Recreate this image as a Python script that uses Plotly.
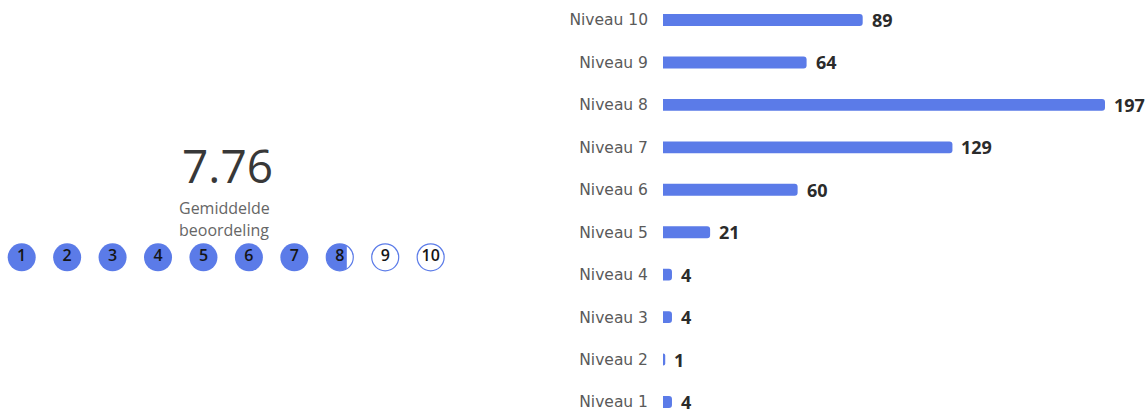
import numpy as np
import plotly.graph_objects as go

# ---- data ----
levels = ["Niveau 1", "Niveau 2", "Niveau 3", "Niveau 4", "Niveau 5",
          "Niveau 6", "Niveau 7", "Niveau 8", "Niveau 9", "Niveau 10"]
counts = [4, 1, 4, 4, 21, 60, 129, 197, 64, 89]
average = 7.76
average_label = "Gemiddelde"
average_label2 = "beoordeling"
scale_points = list(range(1, 11))

BLUE = "#5b7be8"
W, H = 1147, 412

fig = go.Figure()

# ---- bar chart ----
fig.add_trace(go.Bar(
    x=counts, y=levels, orientation="h",
    marker=dict(color=BLUE, line=dict(width=0)),
    xaxis="x", yaxis="y", hoverinfo="x+y", showlegend=False,
))
for lv, c in zip(levels, counts):
    fig.add_annotation(
        x=c, y=lv, xref="x", yref="y", text=f"<b>{c}</b>",
        showarrow=False, xanchor="left", yanchor="middle", xshift=7,
        font=dict(family="Open Sans", size=18, color="#2b2b2b"),
    )

# ---- rating circles ----
full = [p for p in scale_points if p <= int(average)]
rest = [p for p in scale_points if p > int(average)]
fig.add_trace(go.Scatter(
    x=rest, y=[0] * len(rest), mode="markers", xaxis="x2", yaxis="y2",
    marker=dict(size=27, color="white", line=dict(color=BLUE, width=1.2)),
    hoverinfo="skip", showlegend=False,
))
frac = average - int(average)
cx = int(average) + 1
r = 13.5 / 45.44
x_cut = cx - r + 2 * r * frac
a = np.arccos(np.clip((x_cut - cx) / r, -1, 1))
th = np.linspace(a, 2 * np.pi - a, 80)
px = list(cx + r * np.cos(th)) + [cx + r * np.cos(a)]
py = list(r * np.sin(th)) + [r * np.sin(a)]
fig.add_trace(go.Scatter(
    x=px, y=py, mode="lines", fill="toself", fillcolor=BLUE,
    line=dict(width=0, color=BLUE), xaxis="x2", yaxis="y2",
    hoverinfo="skip", showlegend=False,
))
fig.add_trace(go.Scatter(
    x=full, y=[0] * len(full), mode="markers", xaxis="x2", yaxis="y2",
    marker=dict(size=28, color=BLUE, line=dict(width=0)),
    hoverinfo="skip", showlegend=False,
))
fig.add_trace(go.Scatter(
    x=scale_points, y=[0] * len(scale_points), mode="text",
    text=[str(p) for p in scale_points], textposition="middle center",
    textfont=dict(family="Open Sans", size=16, color="#151515", weight=600),
    xaxis="x2", yaxis="y2", hoverinfo="skip", showlegend=False,
))

# ---- average text ----
fig.add_annotation(
    x=180 / W, y=(H - 165) / H, xref="paper", yref="paper",
    text=f"{average:.2f}", showarrow=False, xanchor="left", yanchor="middle",
    font=dict(family="Open Sans", size=46, color="#383838", weight=500),
)
fig.add_annotation(
    x=177 / W, y=(H - 208) / H, xref="paper", yref="paper",
    text=average_label, showarrow=False, xanchor="left", yanchor="middle",
    font=dict(family="Open Sans", size=16, color="#666666"),
)
fig.add_annotation(
    x=177 / W, y=(H - 230) / H, xref="paper", yref="paper",
    text=average_label2, showarrow=False, xanchor="left", yanchor="middle",
    font=dict(family="Open Sans", size=16, color="#666666"),
)

unit = 45.44
fig.update_layout(
    width=W, height=H,
    margin=dict(l=0, r=0, t=0, b=0),
    paper_bgcolor="white", plot_bgcolor="white",
    bargap=0.72, barcornerradius=3,
    xaxis=dict(domain=[663 / W, 1.0], range=[0, 197 * 484 / 442],
               visible=False, fixedrange=True),
    yaxis=dict(type="category", categoryorder="array", categoryarray=levels,
               range=[-10 / 42.44, 9 + 20 / 42.44],
               showgrid=False, zeroline=False, showline=False, ticks="",
               ticklabelstandoff=14,
               tickfont=dict(family="DejaVu Sans", size=15.5, color="#5a5a5a")),
    xaxis2=dict(domain=[0, 0.45], range=[1 - 21.7 / unit, 1 - 21.7 / unit + 0.45 * W / unit],
                visible=False, fixedrange=True),
    yaxis2=dict(domain=[0, 1], range=[-(H - 257.3) / unit, 257.3 / unit],
                anchor="x2", visible=False, fixedrange=True),
)

fig.write_html(
    "out.html",
    config={"displayModeBar": False},
    post_script="document.body.style.margin='0';document.body.style.overflow='hidden';",
)
